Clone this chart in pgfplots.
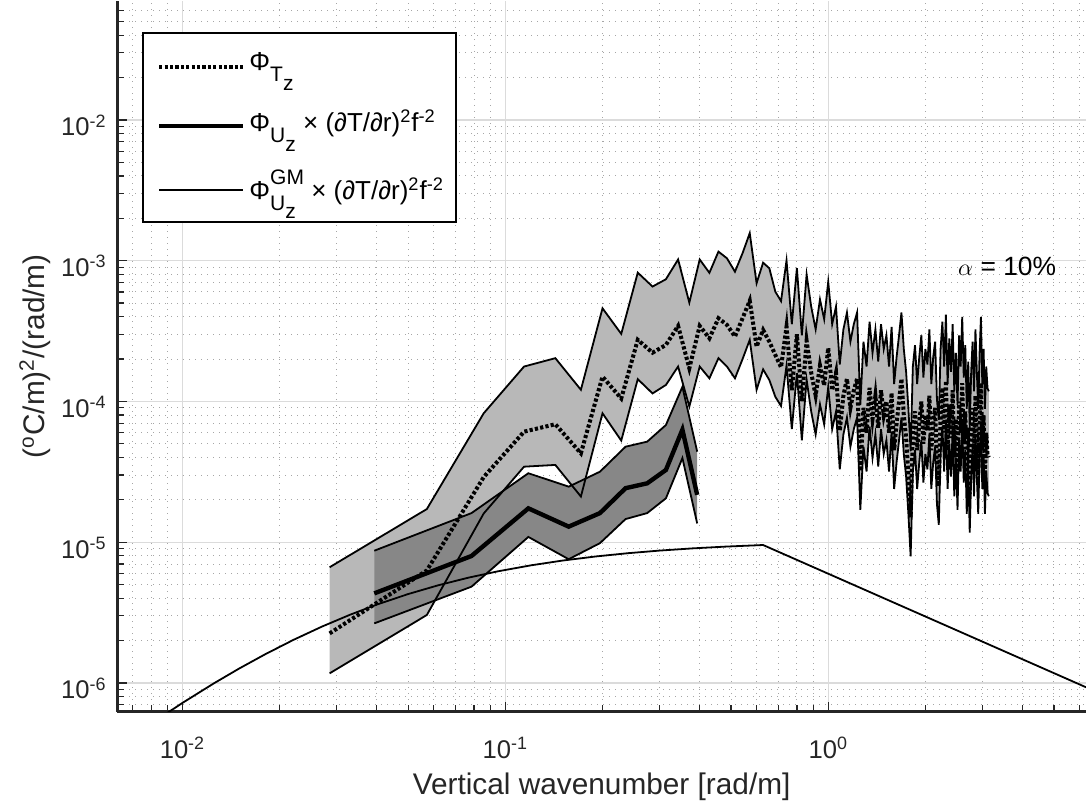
\documentclass[border=0pt]{standalone}
\usepackage{fontspec}
\setmainfont{Liberation Sans}
\usepackage{pgfplots}
\usepackage{pgfplotstable}
\pgfplotsset{compat=1.18}
\usepgfplotslibrary{fillbetween}

\definecolor{lightband}{gray}{0.72}
\definecolor{darkband}{gray}{0.53}
\definecolor{axcol}{gray}{0.15}

\newcommand{\lsub}[1]{\raisebox{-0.42em}{\fontsize{10.5}{12}\selectfont #1}}
\newcommand{\lsup}[1]{\raisebox{0.55em}{\fontsize{10.5}{12}\selectfont #1}}

% Phi_T: wavenumber, estimate, upper and lower 90% bounds
\pgfplotstableread{
k c up lo
0.028560 2.25e-6 6.64e-6 1.17e-6
0.057120 6.30e-6 1.72e-5 3.04e-6
0.085680 2.90e-5 8.24e-5 1.60e-5
0.11424 6.10e-5 1.77e-4 3.44e-5
0.14280 6.89e-5 2.03e-4 3.54e-5
0.17136 4.28e-5 1.21e-4 2.11e-5
0.19992 1.50e-4 4.59e-4 8.24e-5
0.22848 1.05e-4 3.02e-4 5.27e-5
0.25704 2.74e-4 8.22e-4 1.44e-4
0.28560 2.22e-4 6.55e-4 1.14e-4
0.31416 2.52e-4 7.38e-4 1.31e-4
0.34272 3.44e-4 1.02e-3 1.77e-4
0.37128 1.72e-4 5.03e-4 9.19e-5
0.39984 3.44e-4 1.02e-3 1.77e-4
0.42840 2.81e-4 8.20e-4 1.46e-4
0.45696 3.90e-4 1.16e-3 2.03e-4
0.48552 3.50e-4 1.04e-3 1.77e-4
0.51408 2.89e-4 8.35e-4 1.46e-4
0.54264 3.90e-4 1.13e-3 2.00e-4
0.57120 5.20e-4 1.57e-3 2.74e-4
0.59976 2.45e-4 6.92e-4 1.21e-4
0.62832 3.22e-4 9.68e-4 1.69e-4
0.65688 2.66e-4 8.83e-4 1.42e-4
0.68544 2.14e-4 6.03e-4 1.08e-4
0.71400 1.75e-4 5.16e-4 9.28e-5
0.74256 3.40e-4 1.003e-3 1.80e-4
0.77112 1.20e-4 3.54e-4 6.36e-5
0.79968 3.00e-4 8.85e-4 1.59e-4
0.82824 1.00e-4 2.95e-4 5.30e-5
0.85680 2.70e-4 7.97e-4 1.43e-4
0.88536 1.60e-4 4.72e-4 8.48e-5
0.91392 1.10e-4 3.25e-4 5.83e-5
0.94248 1.80e-4 5.31e-4 9.54e-5
0.97104 1.30e-4 3.84e-4 6.89e-5
0.99960 2.40e-4 7.08e-4 1.27e-4
1.02816 1.20e-4 3.54e-4 6.36e-5
1.05672 1.60e-4 4.72e-4 8.48e-5
1.08528 6.20e-5 1.83e-4 3.29e-5
1.11384 1.10e-4 3.25e-4 5.83e-5
1.14240 1.45e-4 4.28e-4 7.69e-5
1.17096 9.00e-5 2.66e-4 4.77e-5
1.19952 1.20e-4 3.54e-4 6.36e-5
1.22808 1.45e-4 4.28e-4 7.69e-5
1.25664 3.20e-5 9.44e-5 1.70e-5
1.28520 9.00e-5 2.66e-4 4.77e-5
1.31376 6.00e-5 1.77e-4 3.18e-5
1.34232 1.25e-4 3.69e-4 6.63e-5
1.37088 7.50e-5 2.21e-4 3.98e-5
1.39944 1.10e-4 3.25e-4 5.83e-5
1.42800 6.50e-5 1.92e-4 3.45e-5
1.45656 1.20e-4 3.54e-4 6.36e-5
1.48512 8.00e-5 2.36e-4 4.24e-5
1.51368 1.00e-4 2.95e-4 5.30e-5
1.54224 6.00e-5 1.77e-4 3.18e-5
1.57080 1.15e-4 3.39e-4 6.10e-5
1.59936 4.50e-5 1.33e-4 2.39e-5
1.62792 7.00e-5 2.07e-4 3.71e-5
1.65648 1.00e-4 2.95e-4 5.30e-5
1.68504 1.45e-4 4.28e-4 7.69e-5
1.71360 8.00e-5 2.36e-4 4.24e-5
1.74216 5.50e-5 1.62e-4 2.92e-5
1.77072 3.00e-5 8.85e-5 1.59e-5
1.79928 1.50e-5 4.43e-5 7.95e-6
1.82784 6.00e-5 1.77e-4 3.18e-5
1.85640 8.50e-5 2.51e-4 4.51e-5
1.88496 4.50e-5 1.33e-4 2.39e-5
1.91352 7.00e-5 2.07e-4 3.71e-5
1.94208 1.00e-4 2.95e-4 5.30e-5
1.97064 5.00e-5 1.48e-4 2.65e-5
1.99920 8.00e-5 2.36e-4 4.24e-5
2.02776 6.20e-5 1.83e-4 3.29e-5
2.05632 1.10e-4 3.25e-4 5.83e-5
2.08488 4.50e-5 1.33e-4 2.39e-5
2.11344 7.00e-5 2.07e-4 3.71e-5
2.14200 9.00e-5 2.66e-4 4.77e-5
2.17056 3.50e-5 1.03e-4 1.86e-5
2.19912 2.50e-5 7.38e-5 1.33e-5
2.22768 8.00e-5 2.36e-4 4.24e-5
2.25624 1.25e-4 3.69e-4 6.63e-5
2.28480 6.00e-5 1.77e-4 3.18e-5
2.31336 1.40e-4 4.13e-4 7.42e-5
2.34192 4.50e-5 1.33e-4 2.39e-5
2.37048 9.50e-5 2.80e-4 5.04e-5
2.39904 5.50e-5 1.62e-4 2.92e-5
2.42760 1.20e-4 3.54e-4 6.36e-5
2.45616 4.00e-5 1.18e-4 2.12e-5
2.48472 7.50e-5 2.21e-4 3.98e-5
2.51328 3.20e-5 9.44e-5 1.70e-5
2.54184 1.00e-4 2.95e-4 5.30e-5
2.57040 6.00e-5 1.77e-4 3.18e-5
2.59896 1.35e-4 3.98e-4 7.16e-5
2.62752 5.00e-5 1.48e-4 2.65e-5
2.65608 8.50e-5 2.51e-4 4.51e-5
2.68464 3.00e-5 8.85e-5 1.59e-5
2.71320 6.50e-5 1.92e-4 3.45e-5
2.74176 2.20e-5 6.49e-5 1.17e-5
2.77032 5.50e-5 1.62e-4 2.92e-5
2.79888 9.00e-5 2.66e-4 4.77e-5
2.82744 4.00e-5 1.18e-4 2.12e-5
2.85600 1.10e-4 3.25e-4 5.83e-5
2.88456 5.50e-5 1.62e-4 2.92e-5
2.91312 3.00e-5 8.85e-5 1.59e-5
2.94168 7.50e-5 2.21e-4 3.98e-5
2.97024 1.35e-4 3.98e-4 7.16e-5
2.99880 4.50e-5 1.33e-4 2.39e-5
3.02736 8.00e-5 2.36e-4 4.24e-5
3.05592 3.00e-5 8.85e-5 1.59e-5
3.08448 6.00e-5 1.77e-4 3.18e-5
3.11304 4.20e-5 1.24e-4 2.23e-5
3.14159 4.00e-5 1.18e-4 2.12e-5
}\PhiT

% Phi_U x (dT/dr)^2 f^-2
\pgfplotstableread{
k c up lo
0.039270 4.33e-6 8.70e-6 2.65e-6
0.078540 7.98e-6 1.61e-5 4.83e-6
0.11781 1.74e-5 3.09e-5 1.09e-5
0.15708 1.29e-5 2.48e-5 7.57e-6
0.19635 1.61e-5 3.17e-5 9.85e-6
0.23562 2.42e-5 4.77e-5 1.46e-5
0.27489 2.62e-5 5.18e-5 1.61e-5
0.31416 3.26e-5 6.80e-5 2.05e-5
0.35343 6.30e-5 1.27e-4 3.96e-5
0.39270 2.17e-5 4.40e-5 1.36e-5
}\PhiU

% GM model
\pgfplotstableread{
k v
0.0062832 3.50e-7
0.0080 5.146e-7
0.0100 7.216e-7
0.0125 9.926e-7
0.0150 1.268e-6
0.0180 1.595e-6
0.0220 2.017e-6
0.0270 2.511e-6
0.0330 3.049e-6
0.0400 3.606e-6
0.0500 4.282e-6
0.0620 4.945e-6
0.0770 5.604e-6
0.0950 6.216e-6
0.1200 6.850e-6
0.1500 7.400e-6
0.1900 7.915e-6
0.2400 8.356e-6
0.3000 8.717e-6
0.3800 9.039e-6
0.4800 9.303e-6
0.6283 9.550e-6
6.2832 9.32e-7
}\GM

\begin{document}
\begin{tikzpicture}
\begin{axis}[
  scale only axis, width=484.35pt, height=355.35pt,
  xmode=log, ymode=log,
  xmin=0.0062832, xmax=6.2832, ymin=6.25e-7, ymax=0.07,
  axis x line=bottom, axis y line=left,
  axis line style={-, draw=axcol, line width=1.2pt},
  xtick={0.01,0.1,1},
  xticklabels={10\textsuperscript{-2},10\textsuperscript{-1},10\textsuperscript{0}},
  minor xtick={0.007,0.008,0.009,0.02,0.03,0.04,0.05,0.06,0.07,0.08,0.09,0.2,0.3,0.4,0.5,0.6,0.7,0.8,0.9,2,3,4,5,6},
  ytick={1e-6,1e-5,1e-4,1e-3,1e-2},
  yticklabels={10\textsuperscript{-6},10\textsuperscript{-5},10\textsuperscript{-4},10\textsuperscript{-3},10\textsuperscript{-2}},
  minor ytick={7e-7,8e-7,9e-7,2e-6,3e-6,4e-6,5e-6,6e-6,7e-6,8e-6,9e-6,2e-5,3e-5,4e-5,5e-5,6e-5,7e-5,8e-5,9e-5,2e-4,3e-4,4e-4,5e-4,6e-4,7e-4,8e-4,9e-4,2e-3,3e-3,4e-3,5e-3,6e-3,7e-3,8e-3,9e-3,2e-2,3e-2,4e-2,5e-2,6e-2},
  grid=both,
  major grid style={draw=gray!28, line width=0.6pt},
  minor grid style={draw=gray!70, line width=0.5pt, dash pattern=on 0.5pt off 2.5pt},
  tick style={draw=axcol, line width=0.6pt},
  major tick length=5pt, minor tick length=3.3pt,
  tick align=inside,
  xticklabel style={anchor=base, inner sep=0pt, yshift=-23.3pt, font=\fontsize{12.8}{14}\selectfont, text=axcol},
  yticklabel style={anchor=base east, inner sep=0pt, xshift=-5.15pt, yshift=-8pt, font=\fontsize{12.8}{14}\selectfont, text=axcol},
  xlabel={Vertical wavenumber [rad/m]},
  ylabel={(\textsuperscript{o}C/m)\textsuperscript{2}/(rad/m)},
  xlabel style={at={(axis description cs:0.5,-0.1172)}, anchor=base, inner sep=0pt, font=\fontsize{14.9}{17}\selectfont, text=axcol},
  ylabel style={at={(axis description cs:-0.0754,0.5)}, anchor=base, inner sep=0pt, font=\fontsize{14.9}{17}\selectfont, text=axcol},
  legend style={at={(axis description cs:0.0258,0.9563)}, anchor=north west,
    draw=black, line width=0.8pt, fill=white,
    font=\fontsize{13}{15}\selectfont, inner xsep=4pt, inner ysep=8pt,
    row sep=14pt, cells={anchor=west}},
  legend image code/.code={\path (0pt,0pt); \draw[#1] (3pt,-2pt) -- (45pt,-2pt);},
]
% invisible boundaries for fills
\addplot[draw=none, name path=Tup, forget plot] table[x=k,y=up]{\PhiT};
\addplot[draw=none, name path=Tlo, forget plot] table[x=k,y=lo]{\PhiT};
\addplot[draw=none, name path=Uup, forget plot] table[x=k,y=up]{\PhiU};
\addplot[draw=none, name path=Ulo, forget plot] table[x=k,y=lo]{\PhiU};
\addplot[fill=lightband, draw=none, forget plot] fill between[of=Tup and Tlo];
\addplot[fill=darkband, draw=none, forget plot] fill between[of=Uup and Ulo];
% band edges
\addplot[black, line width=0.9pt, forget plot] table[x=k,y=up]{\PhiT};
\addplot[black, line width=0.9pt, forget plot] table[x=k,y=lo]{\PhiT};
\addplot[black, line width=0.9pt, forget plot] table[x=k,y=up]{\PhiU};
\addplot[black, line width=0.9pt, forget plot] table[x=k,y=lo]{\PhiU};
% GM
\addplot[black, line width=0.9pt, forget plot] table[x=k,y=v]{\GM};
% estimates
\addplot[black, line width=2pt, dash pattern=on 1.6pt off 1.1pt, forget plot] table[x=k,y=c]{\PhiT};
\addplot[black, line width=2.2pt, forget plot] table[x=k,y=c]{\PhiU};

\node[anchor=base west, font=\fontsize{13.2}{15}\selectfont, text=black] at (axis cs:2.40,7.8e-4) {$\alpha$ = 10\%};

\addlegendimage{black, line width=2pt, dash pattern=on 1.6pt off 1.1pt}
\addlegendentry{Φ\lsub{T\lsub{z}}}
\addlegendimage{black, line width=2.2pt}
\addlegendentry{Φ\lsub{U\lsub{z}} × (∂T/∂r)\textsuperscript{2}f\textsuperscript{-2}}
\addlegendimage{black, line width=0.9pt}
\addlegendentry{Φ\rlap{\lsub{U\lsub{z}}}\lsup{GM} × (∂T/∂r)\textsuperscript{2}f\textsuperscript{-2}}
\end{axis}
\pgfresetboundingbox
\path[use as bounding box] ([xshift=-58.65pt,yshift=-49.65pt]current axis.south west) rectangle ([yshift=0.5pt]current axis.north east);
\end{tikzpicture}
\end{document}
